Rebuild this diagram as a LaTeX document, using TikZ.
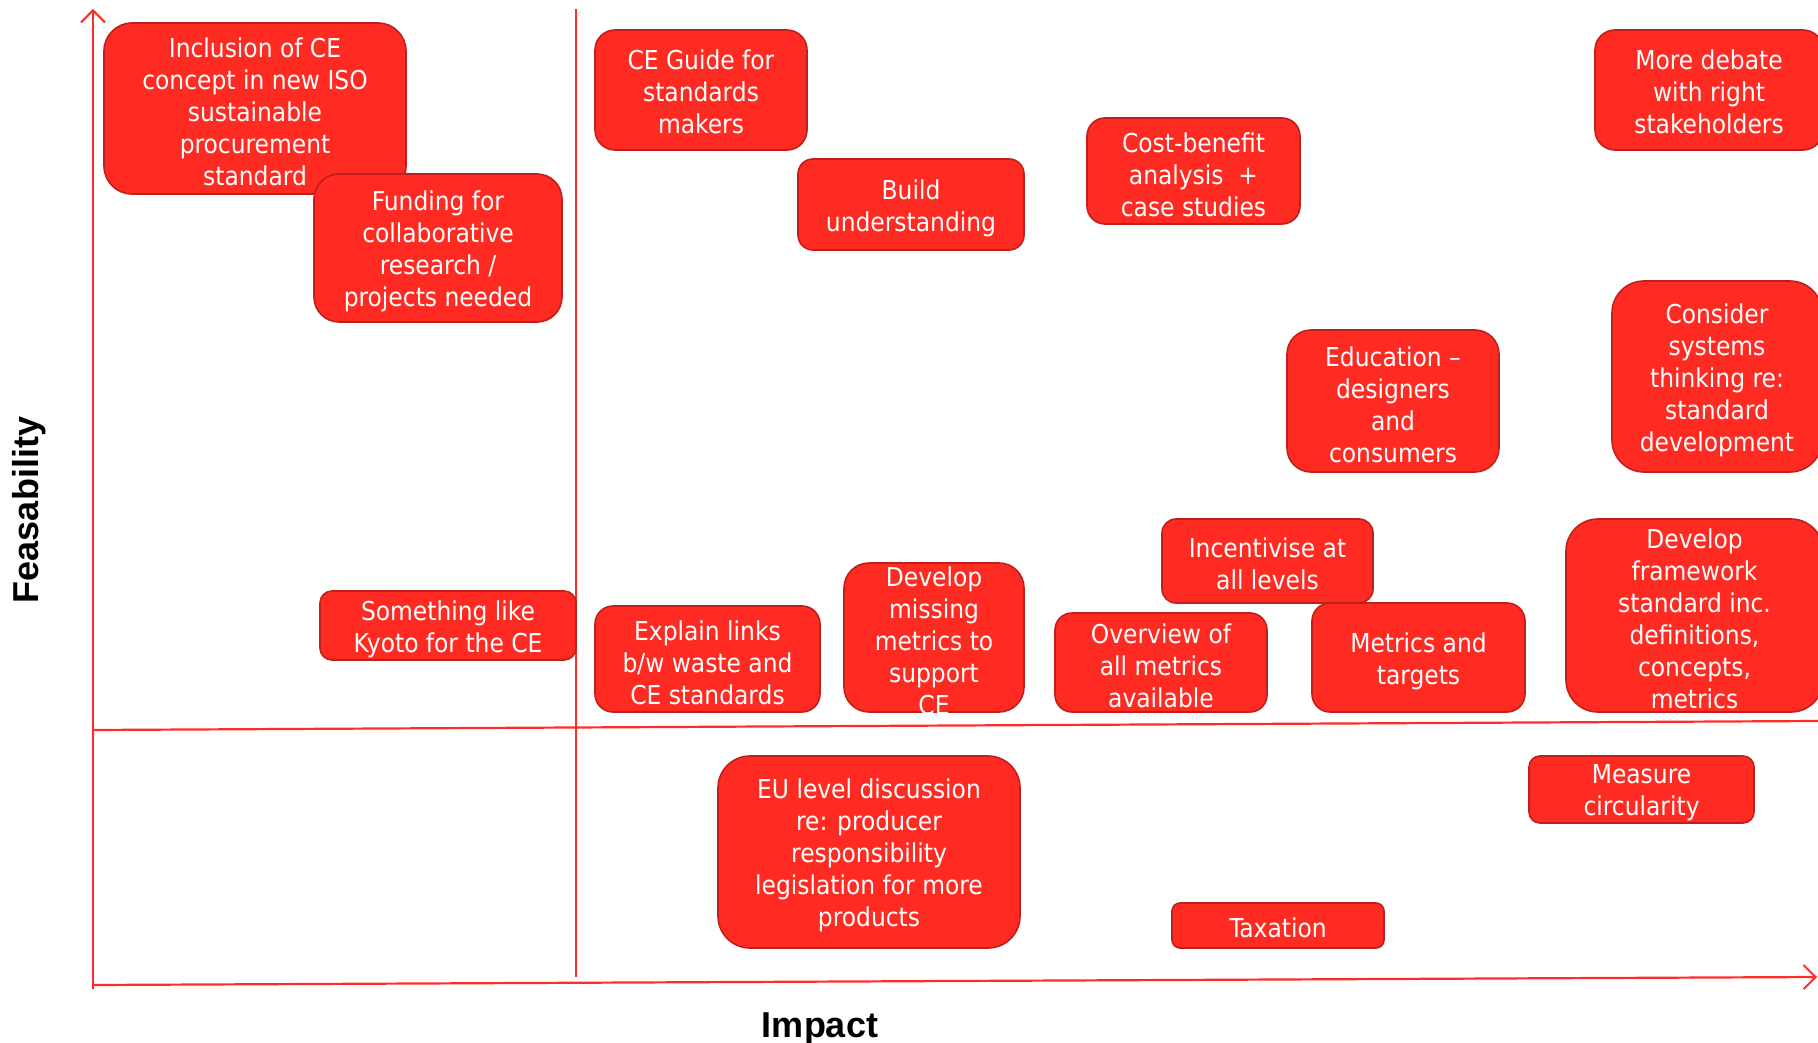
\documentclass[tikz,border=0pt]{standalone}
\usepackage{fontspec}
\setmainfont{DejaVu Sans Condensed}
\newfontfamily\axisfont{Liberation Sans}
\usetikzlibrary{arrows.meta}

\definecolor{boxred}{RGB}{255,42,34}
\definecolor{edgered}{RGB}{190,32,28}
\definecolor{axisred}{RGB}{255,45,40}

\tikzset{
  card/.style={draw=edgered, line width=1.6pt, fill=boxred, inner sep=0pt},
  cardtext/.style={text=white, align=center, inner sep=0pt,
                   font=\fontsize{26}{32}\selectfont, yshift=-2pt},
  axisline/.style={draw=axisred, line width=2.2pt},
  divider/.style={draw=axisred, line width=1.4pt},
  axislabel/.style={font=\axisfont\bfseries\fontsize{36}{40}\selectfont, inner sep=0pt},
  barb/.style={-{Straight Barb[length=12pt,width=24pt,line width=2pt]}}
}

% card: name, centre x, centre y, width, height, corner radius, text y, text
\newcommand{\card}[8]{%
  \node[card, minimum width=#4pt, minimum height=#5pt, rounded corners=#6pt] (#1) at (#2,#3) {};
  \node[cardtext] (#1-t) at (#2,#7) {#8};
}

\begin{document}
\begin{tikzpicture}[x=1pt, y=-1pt]
\useasboundingbox (0,0) rectangle (1818,1043);

% axes and quadrant dividers
\coordinate (ybot) at (93,989);
\coordinate (ytop) at (93,9);
\coordinate (xleft) at (93,985);
\coordinate (xright) at (1817,977);
\coordinate (hleft) at (93,730);
\coordinate (hright) at (1818,721);
\coordinate (vtop) at (576,9);
\coordinate (vbot) at (576,977);

\draw[divider] (vtop) -- (vbot);
\draw[axisline] (hleft) -- (hright);
\draw[axisline, barb] (ybot) -- (ytop);
\draw[axisline, barb] (xleft) -- (xright);

% axis titles
\node[axislabel, rotate=90] (feas) at (29,510) {Feasability};
\node[axislabel] (impact) at (820,1029) {Impact};

% action cards
\card{iso}{255}{108.5}{302}{171}{28}{110}{Inclusion of CE\\concept in new ISO\\sustainable\\procurement\\standard}
\card{fund}{438}{248}{248}{148}{25}{249}{Funding for\\collaborative\\research /\\projects needed}
\card{guide}{701}{90}{212}{120}{20}{90}{CE Guide for\\standards\\makers}
\card{build}{911}{204.5}{226}{91}{15}{206}{Build\\understanding}
\card{cost}{1193.5}{171}{213}{106}{18}{173}{Cost-benefit\\analysis~ +\\case studies}
\card{debate}{1709}{90}{228}{120}{20}{90}{More debate\\with right\\stakeholders}
\card{systems}{1717}{376.5}{210}{191}{32}{378}{Consider\\systems\\thinking re:\\standard\\development}
\card{educ}{1393}{401}{212}{142}{24}{403}{Education –\\designers\\and\\consumers}
\card{incent}{1267.5}{561}{211}{84}{14}{562}{Incentivise at\\all levels}
\card{kyoto}{448}{625.5}{256}{69}{12}{627}{Something like\\Kyoto for the CE}
\card{links}{707.5}{659}{225}{106}{18}{661}{Explain links\\b/w waste and\\CE standards}
\card{missing}{934}{637.5}{180}{149}{25}{639}{Develop\\missing\\metrics to\\support\\CE}
\card{overview}{1161}{662.5}{212}{99}{17}{664}{Overview of\\all metrics\\available}
\card{targets}{1418.5}{657.5}{213}{109}{18}{659}{Metrics and\\targets}
\card{frame}{1694.5}{615.5}{257}{193}{32}{617}{Develop\\framework\\standard inc.\\definitions,\\concepts,\\metrics}
\card{circ}{1641.5}{789.5}{225}{67}{11}{791}{Measure\\circularity}
\card{eu}{869}{852}{302}{192}{32}{853}{EU level discussion\\re: producer\\responsibility\\legislation for more\\products}
\card{tax}{1278}{925.5}{212}{45}{8}{926}{Taxation}

\end{tikzpicture}
\end{document}
